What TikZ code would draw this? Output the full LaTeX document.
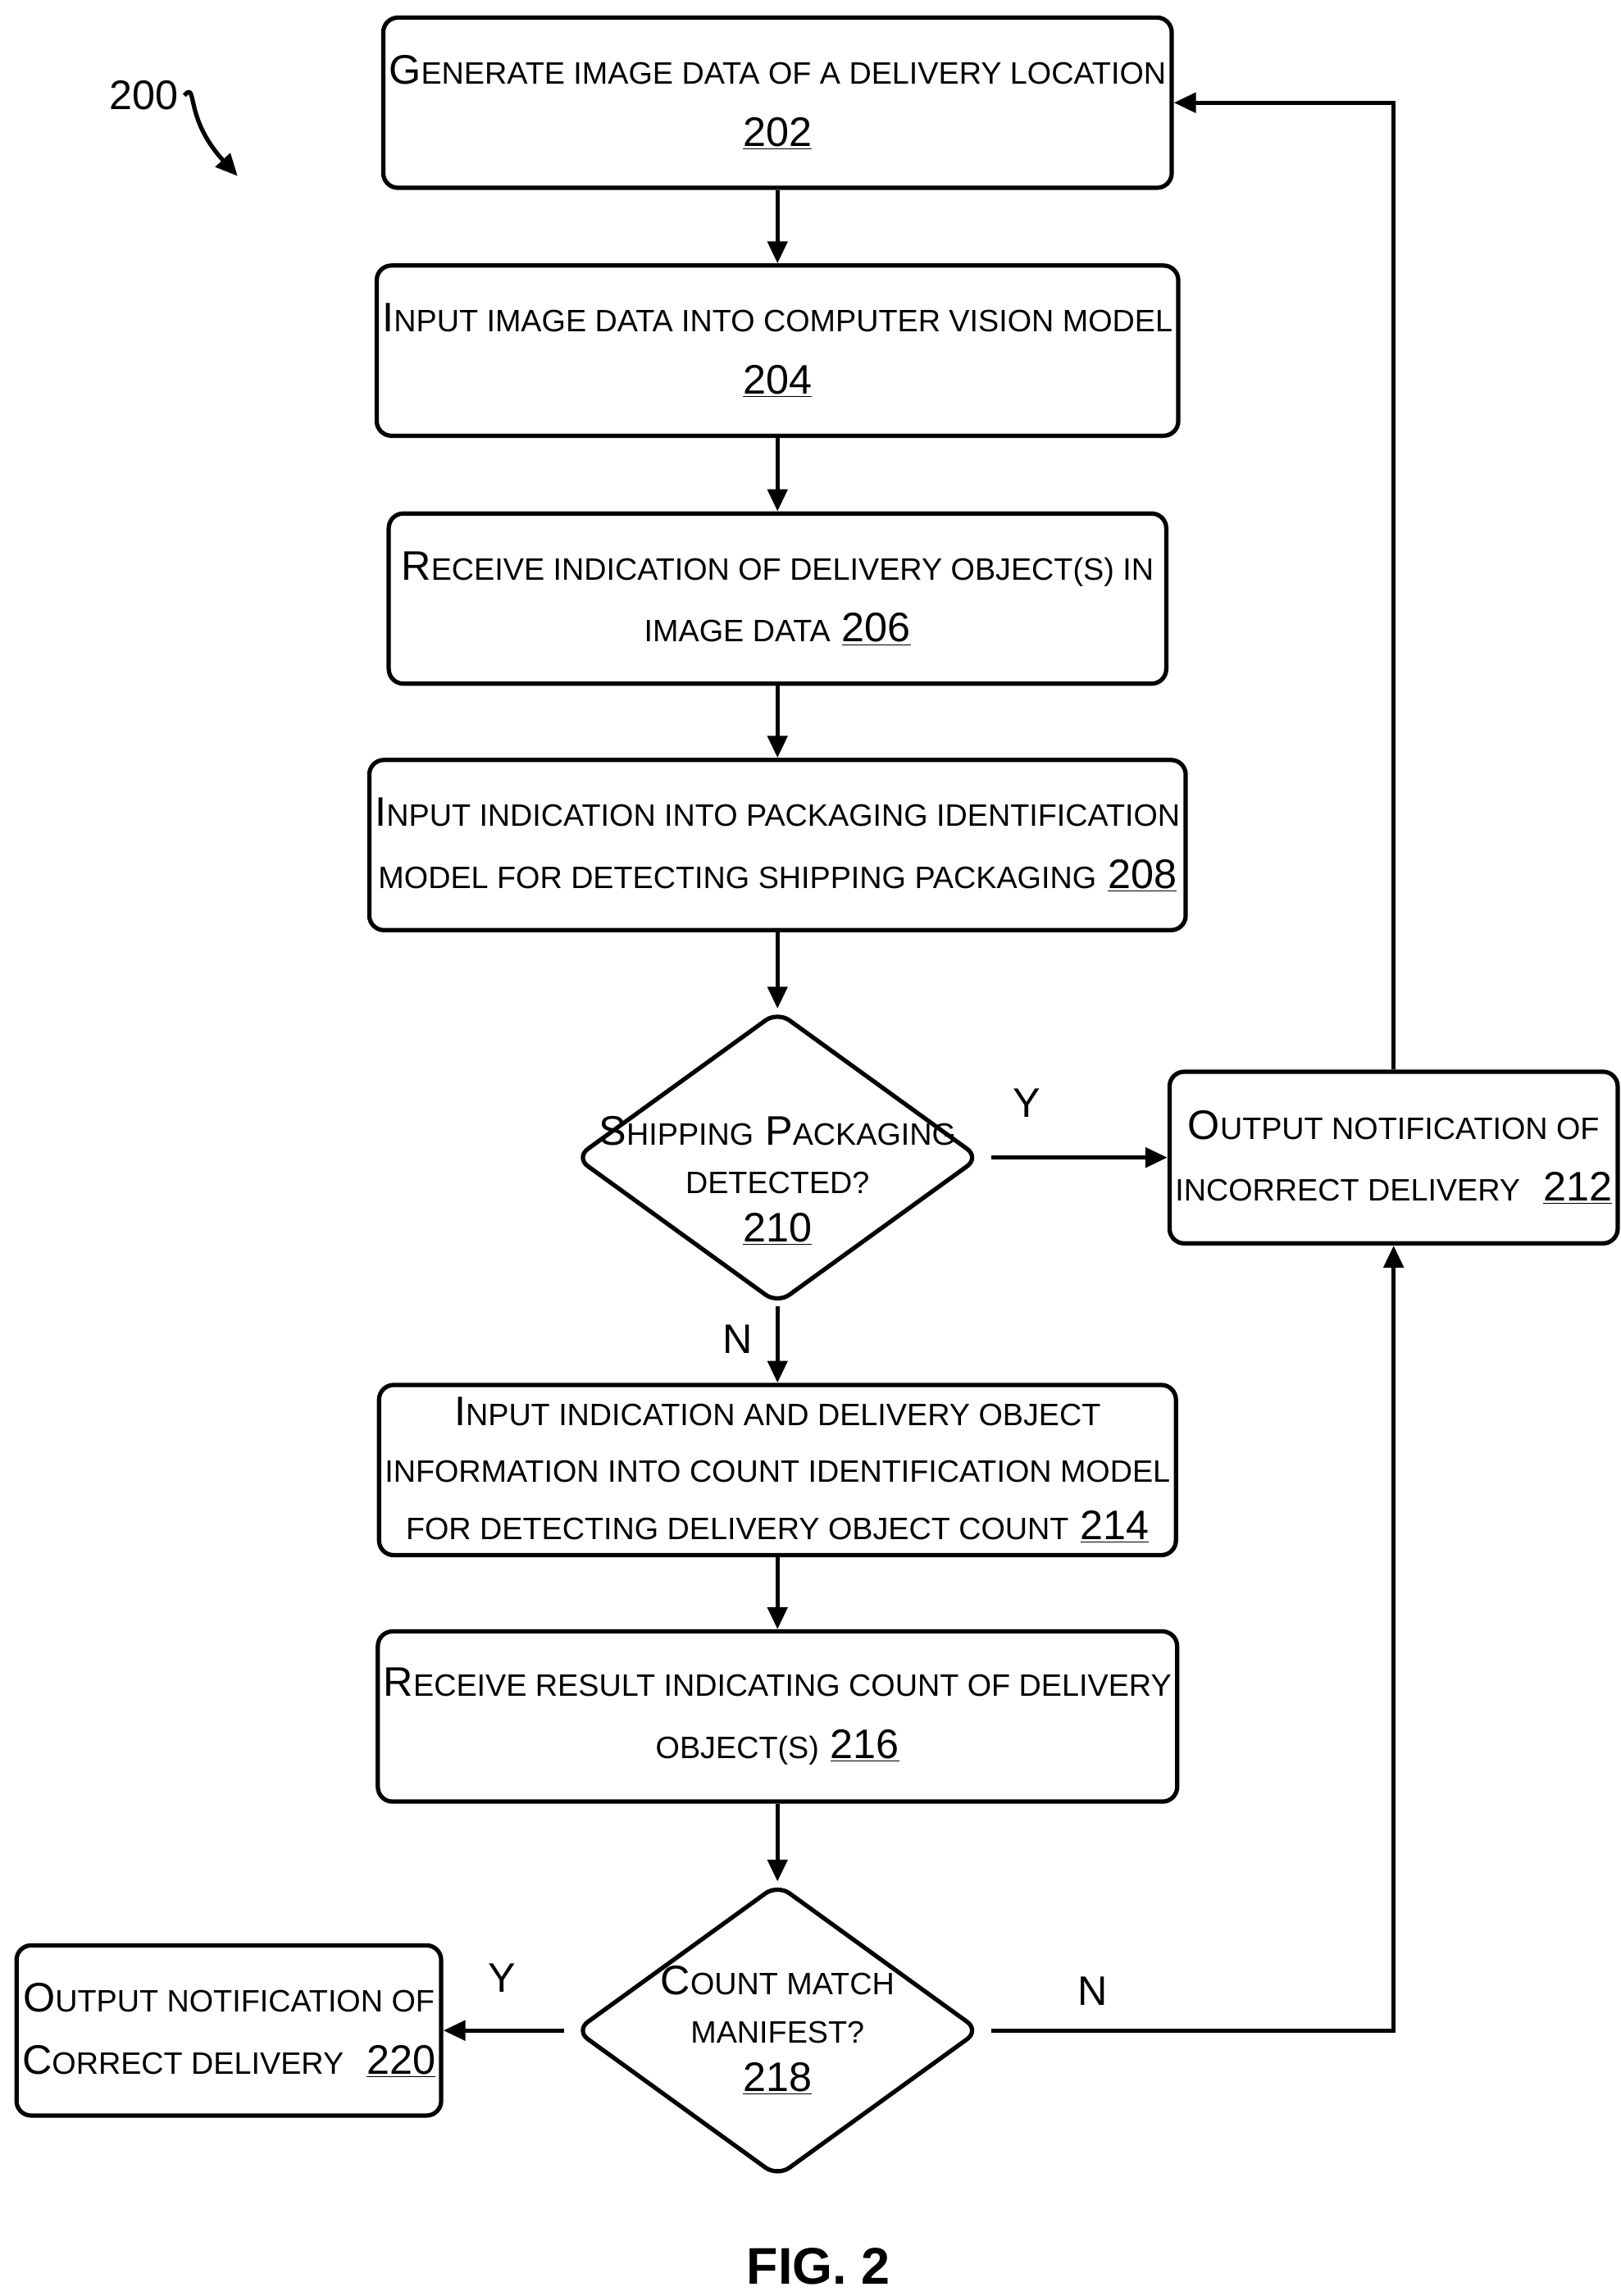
\documentclass[tikz,border=0pt]{standalone}
\usepackage{fontspec}
\setmainfont{Liberation Sans}
\usetikzlibrary{shapes.geometric,arrows.meta}
\newcommand\sm[1]{{\fontsize{18}{22}\selectfont\MakeUppercase{#1}}}
\newcommand\nm[1]{\underline{#1}}
\begin{document}
\begin{tikzpicture}[x=0.03cm,y=-0.03cm,
 box/.style={draw,line width=2.5pt,rounded corners=0.3cm,align=center,font=\fontsize{24}{36}\selectfont},
 dia/.style={draw,line width=2.5pt,diamond,rounded corners=0.3cm,align=center,font=\fontsize{24}{36}\selectfont,minimum width=8.28cm,minimum height=6cm,inner sep=0pt},
 arr/.style={line width=2.5pt,-{Triangle[length=0.45cm,width=0.4cm]}},
 lab/.style={font=\fontsize{24}{28}\selectfont}]
\useasboundingbox (0,0) rectangle (1105,1565);
\fill[white] (0,0) rectangle (1105,1565);
\node[box,minimum width=15.9cm,minimum height=3.48cm] (b202) at (530,70) {G\sm{enerate image data of a delivery location}\\\nm{202}};
\node[box,minimum width=15.9cm,minimum height=3.48cm] (b204) at (530,239) {I\sm{nput image data into computer vision model}\\\nm{204}};
\node[box,minimum width=15.9cm,minimum height=3.48cm] (b206) at (530,408) {R\sm{eceive indication of delivery object(s) in}\\\sm{image data} \nm{206}};
\node[box,minimum width=15.9cm,minimum height=3.48cm] (b208) at (530,576) {I\sm{nput indication into packaging identification}\\\sm{model for detecting shipping packaging} \nm{208}};
\node[dia] (d210) at (530,789) {};
\node[lab,align=center] at (530,805) {S\sm{hipping} P\sm{ackaging}\\\sm{detected?}\\\nm{210}};
\node[box,minimum width=8.67cm,minimum height=3.51cm] (b212) at (950,789) {O\sm{utput notification of}\\\sm{incorrect delivery}\ \ \nm{212}};
\node[box,minimum width=15.9cm,minimum height=3.48cm,font=\fontsize{24}{33}\selectfont] (b214) at (530,1002) {I\sm{nput indication and delivery object}\\\sm{information into count identification model}\\\sm{for detecting delivery object count} \nm{214}};
\node[box,minimum width=15.9cm,minimum height=3.48cm] (b216) at (530,1170) {R\sm{eceive result indicating count of delivery}\\\sm{object(s)} \nm{216}};
\node[dia] (d218) at (530,1384) {};
\node[lab,align=center] at (530,1384) {C\sm{ount match}\\\sm{manifest?}\\\nm{218}};
\node[box,minimum width=8.67cm,minimum height=3.48cm] (b220) at (156,1384) {O\sm{utput notification of}\\C\sm{orrect delivery}\ \ \nm{220}};
\draw[arr] (b202) -- (b204);
\draw[arr] (b204) -- (b206);
\draw[arr] (b206) -- (b208);
\draw[arr] (b208) -- (d210);
\draw[arr] (d210.east) ++(6,0) -- (b212.west);
\draw[arr] (d210) -- (b214);
\draw[arr] (b214) -- (b216);
\draw[arr] (b216) -- (d218);
\draw[arr] (d218.west) ++(-6,0) -- (b220.east);
\draw[arr] (d218.east) ++(6,0) -| (b212.south);
\draw[arr] (b212.north) |- (b202.east);
\node[lab] at (700,752) {Y};
\node[lab] at (503,913) {N};
\node[lab] at (342,1348) {Y};
\node[lab] at (745,1357) {N};
\node[lab] (l200) at (98,65) {200};
\coordinate (t200) at (162,120);
\draw[arr] (l200.east) .. controls (135,55) and (125,80) .. (t200);
\node[font=\bfseries\fontsize{30}{34}\selectfont] at (558,1545) {FIG. 2};
\end{tikzpicture}
\end{document}
